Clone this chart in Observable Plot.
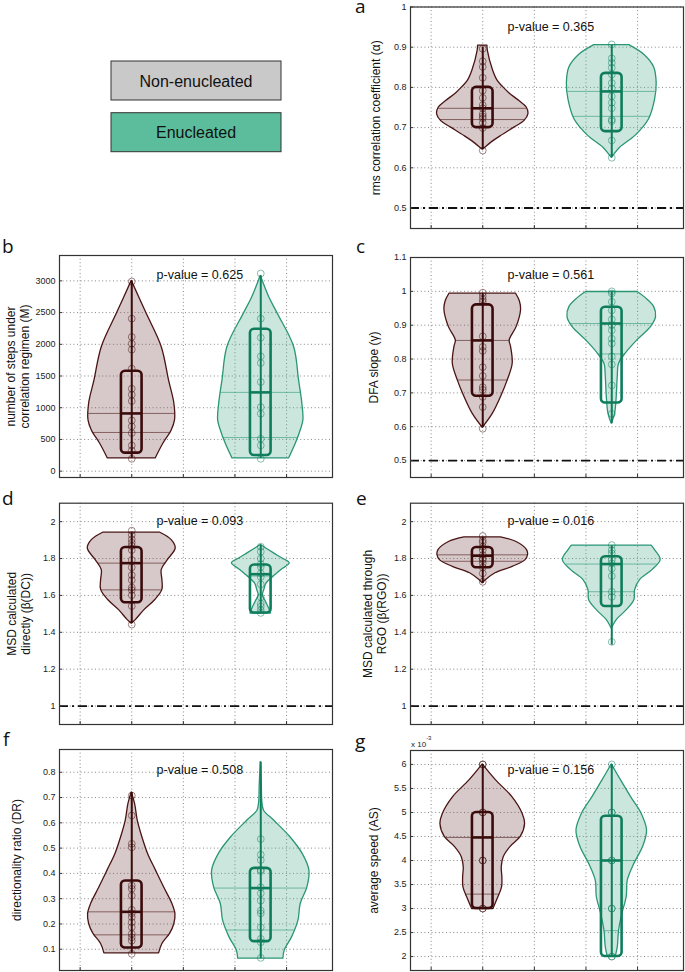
<!DOCTYPE html>
<html><head><meta charset="utf-8">
<script src="https://cdn.jsdelivr.net/npm/d3@7"></script>
<script src="https://cdn.jsdelivr.net/npm/@observablehq/plot@0.6"></script>
<style>
body{margin:0;background:#fff;width:685px;height:972px;position:relative;overflow:hidden;font-family:"Liberation Sans",Arial,sans-serif;}
.panel{position:absolute;}
#overlay{position:absolute;left:0;top:0;}
</style></head><body>
<svg id="overlay" width="685" height="972"></svg>
<script>
// ---------- data ----------
const panelIds = ["a","b","c","d","e","f","g"];
const groups = ["Non-enucleated","Enucleated"];
const groupPos = [1, 2.25];
const gridXTicks = [0.5, 1, 1.5, 2, 2.5];
const yTitles = [
  "rms correlation coefficient (\u03b1)",
  "number of steps under\ncorrelation regimen (M)",
  "DFA slope (\u03b3)",
  "MSD calculated\ndirectly (\u03b2(DC))",
  "MSD calculated through\nRGO (\u03b2(RGO))",
  "directionality ratio (DR)",
  "average speed (AS)"
];
const pValues = ["0.365","0.625","0.561","0.093","0.016","0.508","0.156"];
const pValueY = [0.95, 3090, 1.048, 2.004, 2.004, 0.807, 5.875];
const refLines = [0.5, null, 0.5, 1, 1, null, null];
const yTicks_a = [0.5,0.6,0.7,0.8,0.9,1];
const yTicks_b = [0,500,1000,1500,2000,2500,3000];
const yTicks_c = [0.5,0.6,0.7,0.8,0.9,1,1.1];
const yTicks_d = [1,1.2,1.4,1.6,1.8,2];
const yTicks_e = [1,1.2,1.4,1.6,1.8,2];
const yTicks_f = [0.1,0.2,0.3,0.4,0.5,0.6,0.7,0.8];
const yTicks_g = [2,2.5,3,3.5,4,4.5,5,5.5,6]; // x 10^-3

// box stats per panel: [q1, q3, median, whiskerLow, whiskerHigh]
const boxNon = [
  [0.70,0.80,0.748,0.645,0.90],
  [284,1574,910,200,3000],
  [0.69,0.96,0.855,0.597,0.993],
  [1.56,1.86,1.775,1.447,1.94],
  [1.75,1.86,1.815,1.665,1.915],
  [0.105,0.37,0.248,0.084,0.72],
  [3.0,5.0,4.48,2.99,6.0]
];
const boxEnu = [
  [0.69,0.835,0.79,0.625,0.905],
  [247,2237,1242,200,3080],
  [0.67,0.953,0.905,0.609,1.0],
  [1.505,1.765,1.715,1.502,1.873],
  [1.54,1.81,1.77,1.33,1.87],
  [0.13,0.42,0.342,0.063,0.84],
  [2.0,4.92,4.0,2.0,6.0]
];
// thin lines across the violins
const linesNon = [[0.748,0.72],[910,610],[0.855,0.738],[1.775,1.63],[1.82,1.785],[0.248,0.157],[4.48,3.3]];
const linesEnu = [[0.79,0.728],[1242,530],[0.905,0.815],[1.705],[1.77,1.62],[0.342,0.176],[4.0,2.54]];

// individual observations
const pointsNon_a = [0.896,0.865,0.851,0.824,0.792,0.774,0.756,0.748,0.734,0.728,0.723,0.712,0.699,0.643];
const pointsEnu_a = [0.907,0.872,0.861,0.849,0.832,0.811,0.797,0.778,0.762,0.748,0.720,0.716,0.668,0.625];
const pointsNon_b = [2990,2405,2116,2010,1916,1616,1300,1205,1105,800,705,600,405,326,195];
const pointsEnu_b = [3116,2405,2105,1810,1705,1405,1010,905,510,405,195];
const pointsNon_c = [0.996,0.986,0.976,0.969,0.867,0.836,0.824,0.776,0.750,0.717,0.709,0.688,0.658,0.594];
const pointsEnu_c = [1.0,0.994,0.969,0.944,0.917,0.900,0.885,0.860,0.846,0.808,0.784,0.722,0.638];
const pointsNon_d = [1.951,1.928,1.904,1.886,1.868,1.846,1.792,1.752,1.710,1.683,1.643,1.629,1.601,1.542,1.442];
const pointsEnu_d = [1.864,1.837,1.80,1.77,1.755,1.72,1.70,1.66,1.59,1.555,1.54,1.52,1.505];
const pointsNon_e = [1.922,1.899,1.886,1.864,1.846,1.819,1.801,1.792,1.774,1.752,1.719,1.674];
const pointsEnu_e = [1.873,1.846,1.828,1.792,1.774,1.746,1.705,1.62,1.592,1.348];
const pointsNon_f = [0.708,0.629,0.517,0.503,0.352,0.339,0.312,0.256,0.242,0.227,0.207,0.187,0.161,0.147,0.134,0.082];
const pointsEnu_f = [0.536,0.474,0.453,0.414,0.409,0.345,0.321,0.292,0.253,0.242,0.187,0.141,0.128,0.066];
const pointsNon_g = [6,6,5,5,4,4,3,3];
const pointsEnu_g = [6,5,5,4,4,3,3,2,2];

// violin outlines: [value, half-width]
const violinNon_a = [[0.904,0.045],[0.89,0.05],[0.842,0.10],[0.816,0.145],[0.80,0.20],[0.785,0.26],[0.766,0.355],[0.75,0.426],[0.733,0.442],[0.716,0.403],[0.70,0.306],[0.679,0.177],[0.662,0.081],[0.648,0.016],[0.645,0]];
const violinEnu_a = [[0.905,0.17],[0.88,0.32],[0.85,0.41],[0.81,0.435],[0.77,0.42],[0.72,0.36],[0.68,0.232],[0.65,0.081],[0.63,0.016],[0.625,0]];
const violinNon_b = [[3000,0],[2480,0.145],[1958,0.29],[1430,0.361],[1063,0.413],[800,0.419],[642,0.387],[432,0.306],[200,0.232]];
const violinEnu_b = [[3080,0],[2747,0.081],[2480,0.165],[1958,0.323],[1430,0.371],[1063,0.403],[800,0.413],[642,0.387],[432,0.339],[200,0.274]];
const violinNon_c = [[0.993,0.323],[0.970,0.36],[0.944,0.371],[0.895,0.329],[0.855,0.261],[0.836,0.274],[0.786,0.29],[0.737,0.242],[0.688,0.177],[0.638,0.097],[0.597,0]];
const violinEnu_c = [[0.998,0.25],[0.98,0.33],[0.954,0.41],[0.924,0.429],[0.895,0.381],[0.855,0.248],[0.816,0.135],[0.786,0.071],[0.747,0.058],[0.688,0.048],[0.638,0.032],[0.609,0]];
const violinNon_d = [[1.94,0.277],[1.90,0.387],[1.855,0.426],[1.79,0.348],[1.737,0.29],[1.683,0.297],[1.63,0.297],[1.574,0.226],[1.52,0.123],[1.466,0.039],[1.447,0]];
const violinEnu_d = [[1.873,0],[1.828,0.129],[1.80,0.21],[1.774,0.28],[1.738,0.20],[1.70,0.12],[1.665,0.056],[1.629,0.034],[1.60,0.02],[1.565,0.05],[1.53,0.08],[1.502,0.10]];
const violinNon_e = [[1.915,0.177],[1.891,0.323],[1.846,0.429],[1.819,0.439],[1.79,0.413],[1.755,0.29],[1.72,0.123],[1.683,0.032],[1.665,0]];
const violinEnu_e = [[1.87,0.387],[1.846,0.419],[1.792,0.474],[1.737,0.394],[1.683,0.274],[1.629,0.226],[1.574,0.219],[1.52,0.145],[1.466,0.048],[1.43,0.01],[1.42,0]];
const violinNon_f = [[0.72,0],[0.675,0.032],[0.609,0.058],[0.543,0.103],[0.477,0.158],[0.411,0.235],[0.345,0.313],[0.279,0.394],[0.24,0.423],[0.2,0.413],[0.161,0.371],[0.121,0.297],[0.084,0.265]];
const violinEnu_f = [[0.84,0],[0.75,0.01],[0.68,0.016],[0.648,0.032],[0.609,0.129],[0.543,0.287],[0.477,0.406],[0.411,0.471],[0.345,0.452],[0.279,0.387],[0.213,0.365],[0.147,0.303],[0.095,0.232],[0.063,0.219]];
const violinNon_g = [[6,0],[5.667,0.129],[5.32,0.287],[4.97,0.387],[4.76,0.41],[4.49,0.368],[4.28,0.268],[4.07,0.203],[3.86,0.184],[3.65,0.19],[3.44,0.187],[3.24,0.152],[2.99,0.103]];
const violinEnu_g = [[6,0],[5.667,0.09],[5.32,0.187],[4.97,0.29],[4.625,0.342],[4.28,0.303],[3.93,0.219],[3.58,0.155],[3.24,0.145],[2.89,0.103],[2.54,0.071],[2.19,0.058],[2.0,0.039]];

// ---------- layout ----------
const yDomains = [[0.449,1.0],[-100,3400],[0.45,1.1],[0.9,2.1],[0.9,2.1],[0.016,0.89],[1.71,6.29]];
// [left, top, width, height, marginLeft, marginRight, marginTop, marginBottom, titleDx]
const layout = [
  [340,0,345,232,70,2,6.5,4,-35],
  [0,240,345,242,59,13,15,5,-42],
  [340,240,345,242,70,2,17,5,-37],
  [0,490,345,240,59,13,12.7,6,-41],
  [340,490,345,240,70,2,12.7,6,-36],
  [0,738,345,234,59,13,11,2,-43.5],
  [340,738,345,234,70,2,12,2,-37]
];

const colNon = "#3b0b0b", colNonOutline = "#4a1414", colNonFill = "#794b4b";
const colEnu = "#0f7d5c", colEnuOutline = "#2a9676", colEnuFill = "#52ac8a";
const FONT = "Liberation Sans, Arial, sans-serif";
const boxHalf = 0.1;

function widthAt(profile, y) {
  for (let i = 0; i < profile.length - 1; i++) {
    const [y0, w0] = profile[i], [y1, w1] = profile[i + 1];
    if ((y <= y0 && y >= y1) || (y >= y0 && y <= y1)) {
      const t = y1 === y0 ? 0 : (y - y0) / (y1 - y0);
      return w0 + t * (w1 - w0);
    }
  }
  return 0;
}

const yTickSets = [yTicks_a,yTicks_b,yTicks_c,yTicks_d,yTicks_e,yTicks_f,yTicks_g];
const violinsNon = [violinNon_a,violinNon_b,violinNon_c,violinNon_d,violinNon_e,violinNon_f,violinNon_g];
const violinsEnu = [violinEnu_a,violinEnu_b,violinEnu_c,violinEnu_d,violinEnu_e,violinEnu_f,violinEnu_g];
const ptsNon = [pointsNon_a,pointsNon_b,pointsNon_c,pointsNon_d,pointsNon_e,pointsNon_f,pointsNon_g];
const ptsEnu = [pointsEnu_a,pointsEnu_b,pointsEnu_c,pointsEnu_d,pointsEnu_e,pointsEnu_f,pointsEnu_g];

function groupMarks(c, profile, lines, pts, box, col, outline, fill) {
  return [
    Plot.areaX(profile, {y: d => d[0], x1: d => c - d[1], x2: d => c + d[1], fill: fill, fillOpacity: 0.3,
      stroke: outline, strokeWidth: 1.3, curve: "catmull-rom"}),
    Plot.ruleY(lines, {y: d => d, x1: d => c - widthAt(profile, d), x2: d => c + widthAt(profile, d),
      stroke: outline, strokeOpacity: 0.65, strokeWidth: 0.9}),
    Plot.ruleX([box], {x: c, y1: b => b[3], y2: b => b[4], stroke: col, strokeWidth: 2}),
    Plot.dot(pts, {x: c, y: d => d, r: 3.4, stroke: col, strokeOpacity: 0.55, strokeWidth: 0.9, fill: "none"}),
    Plot.rect([box], {x1: c - boxHalf, x2: c + boxHalf, y1: b => b[0], y2: b => b[1], rx: 4,
      stroke: col, strokeWidth: 2.6, fill: "none"}),
    Plot.ruleY([box], {y: b => b[2], x1: c - boxHalf, x2: c + boxHalf, stroke: col, strokeWidth: 2.6})
  ];
}

panelIds.forEach((id, i) => {
  const [left, top, w, h, ml, mr, mt, mb, tdx] = layout[i];
  const marks = [
    Plot.gridX(gridXTicks, {stroke: "#6a6a6a", strokeOpacity: 0.9, strokeDasharray: "1,2.6", strokeWidth: 0.9}),
    Plot.gridY(yTickSets[i], {stroke: "#6a6a6a", strokeOpacity: 0.9, strokeDasharray: "1,2.6", strokeWidth: 0.9})
  ];
  if (refLines[i] != null) marks.push(Plot.ruleY([refLines[i]], {stroke: "#111", strokeWidth: 1.8, strokeDasharray: "9,4,2,4"}));
  marks.push(...groupMarks(groupPos[0], violinsNon[i], linesNon[i], ptsNon[i], boxNon[i], colNon, colNonOutline, colNonFill));
  marks.push(...groupMarks(groupPos[1], violinsEnu[i], linesEnu[i], ptsEnu[i], boxEnu[i], colEnu, colEnuOutline, colEnuFill));
  marks.push(
    Plot.text([pValues[i]], {x: 1.66, y: pValueY[i], text: d => `p-value = ${d}`, fontSize: 12.5, fill: "#111"}),
    Plot.text([yTitles[i]], {frameAnchor: "left", dx: tdx, rotate: -90, textAnchor: "middle", lineAnchor: "middle",
      text: d => d, fontSize: 12, lineHeight: 1.2, fill: "#111"}),
    Plot.axisY({ticks: yTickSets[i], tickSize: 0, tickPadding: 4, tickFormat: d => String(d), fontSize: 9, fill: "#222", label: null}),
    Plot.axisY({ticks: yTickSets[i], tickSize: -3, tickFormat: () => "", stroke: "#333", label: null}),
    Plot.axisX({ticks: gridXTicks, anchor: "bottom", tickSize: -3, tickFormat: () => "", stroke: "#333", label: null}),
    Plot.frame({stroke: "#333", strokeWidth: 1.2})
  );
  const chart = Plot.plot({
    width: w, height: h,
    marginLeft: ml, marginRight: mr, marginTop: mt, marginBottom: mb,
    x: {domain: [0.3, 2.945]},
    y: {domain: yDomains[i]},
    style: {background: "transparent", fontFamily: FONT, overflow: "visible"},
    marks
  });
  const div = document.createElement("div");
  div.className = "panel";
  div.style.left = left + "px";
  div.style.top = top + "px";
  div.appendChild(chart);
  document.body.appendChild(div);
});

// ---------- overlay: panel letters, legend, exponent ----------
const svg = d3.select("#overlay");
const letterPos = [[355,13],[2,253],[356,253],[2,505],[356,505],[3,746],[355,748]];
panelIds.forEach((id, i) => {
  svg.append("text").attr("x", letterPos[i][0]).attr("y", letterPos[i][1]).text(id)
    .attr("font-family", "Open Sans, DejaVu Sans, sans-serif").attr("font-size", 19).attr("fill", "#111");
});
const legendFill = ["#c9c9c9", "#5bbd9b"];
const legendTop = [61, 112.7];
groups.forEach((g, i) => {
  svg.append("rect").attr("x", 111).attr("y", legendTop[i]).attr("width", 170).attr("height", 39)
    .attr("fill", legendFill[i]).attr("stroke", "#333").attr("stroke-width", 1);
  svg.append("text").attr("x", 196).attr("y", legendTop[i] + 25.5).attr("text-anchor", "middle")
    .attr("font-family", FONT).attr("font-size", 16).attr("fill", "#111").text(g);
});
const ex = svg.append("text").attr("x", 411).attr("y", 747).attr("font-family", FONT).attr("font-size", 8).attr("fill", "#222");
ex.append("tspan").text("x 10");
ex.append("tspan").attr("dy", -7).attr("font-size", 6).text("-3");
</script>
</body></html>
